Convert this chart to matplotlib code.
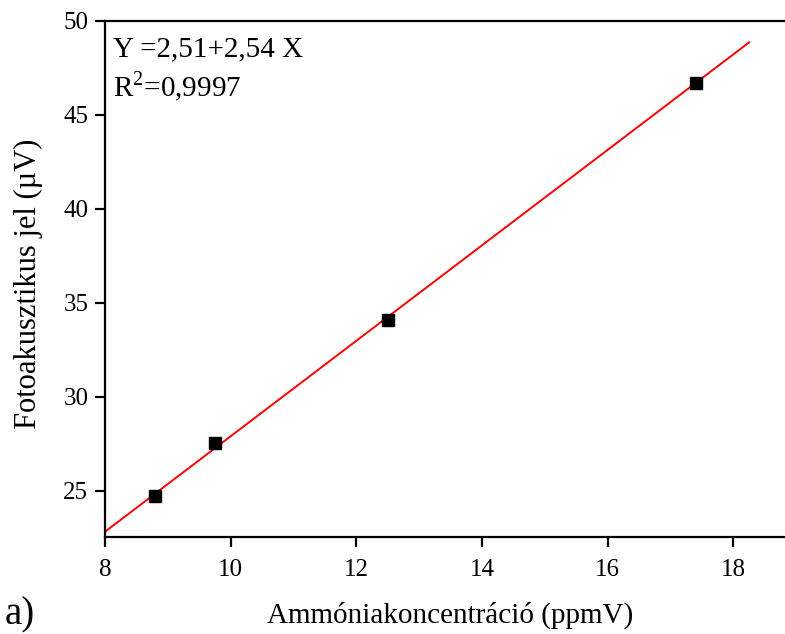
import matplotlib
matplotlib.use("Agg")
import matplotlib.pyplot as plt
import numpy as np

plt.rcParams['font.family'] = ['Liberation Serif', 'DejaVu Serif']
plt.rcParams['mathtext.fontset'] = 'custom'
plt.rcParams['mathtext.rm'] = 'Liberation Serif'

conc = [8.80, 9.75, 12.50, 17.40]
signal = [24.75, 27.55, 34.10, 46.70]
intercept = 2.51
slope = 2.54
fit_range = [8.0, 18.25]
xticks = [8, 10, 12, 14, 16, 18]
yticks = [25, 30, 35, 40, 45, 50]

fig = plt.figure(figsize=(7.85, 6.34), dpi=100)
ax = fig.add_axes([105/785, 1-537/634, 1-105/785, (537-21)/634])

xf = np.array(fit_range)
ax.plot(xf, intercept + slope*xf, color='#ff0000', lw=1.4, zorder=2)
ax.plot(conc, signal, 's', color='black', ms=8, zorder=3)

ax.set_xlim(8, 18.82)
ax.set_ylim(22.55, 50)
ax.set_xticks(xticks)
ax.set_yticks(yticks)
for s in ['left', 'bottom', 'top']:
    ax.spines[s].set_linewidth(1.6)
ax.spines['right'].set_visible(False)
ax.tick_params(direction='out', length=7, width=1.6, labelsize=18)
ax.tick_params(axis='x', pad=9)
ax.tick_params(axis='y', pad=5)

ax.set_xlabel('Ammóniakoncentráció (ppmV)', fontsize=21)
ax.xaxis.set_label_coords(0.507, -(623-537)/516)
ax.xaxis.label.set_va('baseline')
ax.set_ylabel('Fotoakusztikus jel (µV)', fontsize=22)
ax.yaxis.set_label_coords(-77/680, 0.49)
ax.yaxis.label.set_va('center')

ax.text(0.012, 1-(56-21)/516, 'Y =2,51+2,54 X', transform=ax.transAxes, fontsize=21, va='baseline', ha='left')
ax.text(0.012, 1-(97-21)/516, 'R$^2$=0,9997', transform=ax.transAxes, fontsize=21, va='baseline', ha='left')

fig.text(5/785, 1-624/634, 'a)', fontsize=28, va='baseline', ha='left')

fig.savefig('out.png', dpi=100)
